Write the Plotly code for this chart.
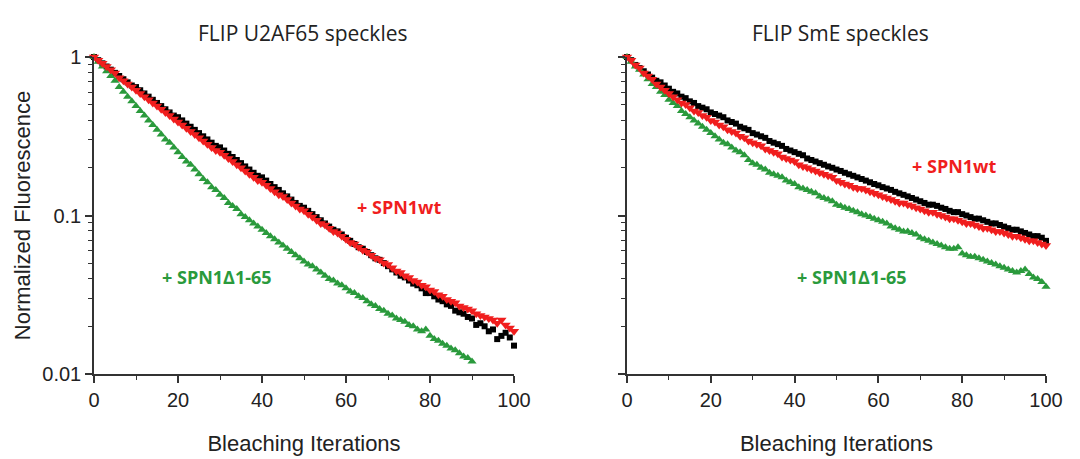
import plotly.graph_objects as go

# bleaching iterations
iters = list(range(101))

# FLIP U2AF65 speckles (left panel)
u2_ctrl = [1.000, 0.955, 0.912, 0.871, 0.832, 0.794, 0.759, 0.724, 0.692, 0.661,
           0.646, 0.617, 0.589, 0.562, 0.537, 0.513, 0.490, 0.468, 0.447, 0.427,
           0.417, 0.398, 0.380, 0.363, 0.347, 0.331, 0.316, 0.302, 0.288, 0.275,
           0.269, 0.257, 0.245, 0.234, 0.224, 0.214, 0.204, 0.195, 0.186, 0.178,
           0.174, 0.166, 0.158, 0.151, 0.145, 0.138, 0.132, 0.126, 0.120, 0.115,
           0.112, 0.107, 0.102, 0.0977, 0.0933, 0.0891, 0.0851, 0.0813, 0.0794, 0.0759,
           0.0724, 0.0692, 0.0661, 0.0631, 0.0617, 0.0589, 0.0562, 0.0537, 0.0525, 0.0501,
           0.0479, 0.0457, 0.0437, 0.0417, 0.0407, 0.0389, 0.0372, 0.0363, 0.0347, 0.0324,
           0.0324, 0.0309, 0.0295, 0.0288, 0.0275, 0.0269, 0.0251, 0.0245, 0.0240, 0.0229,
           0.0224, 0.0204, 0.0209, 0.0200, 0.0186, 0.0191, 0.0166, 0.0174, 0.0182, 0.0170,
           0.0151]
u2_wt = [1.000, 0.955, 0.912, 0.871, 0.832, 0.794, 0.741, 0.708, 0.676, 0.646,
         0.617, 0.589, 0.562, 0.537, 0.513, 0.490, 0.468, 0.447, 0.427, 0.407,
         0.389, 0.372, 0.355, 0.339, 0.324, 0.309, 0.295, 0.282, 0.269, 0.257,
         0.251, 0.240, 0.229, 0.219, 0.209, 0.200, 0.191, 0.182, 0.174, 0.166,
         0.162, 0.155, 0.148, 0.141, 0.135, 0.132, 0.126, 0.120, 0.115, 0.110,
         0.107, 0.102, 0.0977, 0.0933, 0.0891, 0.0871, 0.0832, 0.0794, 0.0776, 0.0741,
         0.0708, 0.0676, 0.0661, 0.0631, 0.0603, 0.0589, 0.0562, 0.0537, 0.0525, 0.0501,
         0.0490, 0.0468, 0.0447, 0.0437, 0.0417, 0.0407, 0.0389, 0.0380, 0.0363, 0.0355,
         0.0339, 0.0331, 0.0316, 0.0309, 0.0295, 0.0288, 0.0282, 0.0269, 0.0263, 0.0257,
         0.0251, 0.0240, 0.0234, 0.0229, 0.0224, 0.0219, 0.0209, 0.0219, 0.0204, 0.0195,
         0.0186]
u2_del = [1.000, 0.933, 0.871, 0.813, 0.759, 0.708, 0.646, 0.603, 0.562, 0.525,
          0.490, 0.457, 0.427, 0.398, 0.372, 0.347, 0.324, 0.302, 0.288, 0.269,
          0.251, 0.234, 0.219, 0.209, 0.195, 0.182, 0.170, 0.162, 0.151, 0.145,
          0.135, 0.129, 0.120, 0.115, 0.110, 0.102, 0.0977, 0.0933, 0.0891, 0.0851,
          0.0813, 0.0776, 0.0741, 0.0708, 0.0676, 0.0646, 0.0617, 0.0589, 0.0562, 0.0537,
          0.0513, 0.0490, 0.0479, 0.0457, 0.0437, 0.0417, 0.0398, 0.0389, 0.0372, 0.0363,
          0.0347, 0.0331, 0.0324, 0.0309, 0.0302, 0.0288, 0.0275, 0.0269, 0.0257, 0.0251,
          0.0240, 0.0234, 0.0224, 0.0219, 0.0214, 0.0204, 0.0200, 0.0191, 0.0186, 0.0191,
          0.0174, 0.0166, 0.0162, 0.0155, 0.0151, 0.0145, 0.0141, 0.0135, 0.0129, 0.0126,
          0.0120]

# FLIP SmE speckles (right panel)
sme_ctrl = [1.000, 0.955, 0.891, 0.851, 0.813, 0.776, 0.741, 0.708, 0.692, 0.661,
            0.631, 0.603, 0.589, 0.562, 0.550, 0.525, 0.513, 0.490, 0.479, 0.468,
            0.447, 0.437, 0.427, 0.417, 0.398, 0.389, 0.380, 0.363, 0.355, 0.347,
            0.331, 0.324, 0.316, 0.309, 0.295, 0.288, 0.282, 0.275, 0.263, 0.257,
            0.251, 0.245, 0.240, 0.229, 0.224, 0.219, 0.214, 0.209, 0.204, 0.200,
            0.195, 0.191, 0.186, 0.182, 0.178, 0.174, 0.170, 0.166, 0.162, 0.158,
            0.155, 0.151, 0.148, 0.145, 0.141, 0.138, 0.135, 0.132, 0.129, 0.126,
            0.123, 0.120, 0.117, 0.117, 0.115, 0.112, 0.110, 0.107, 0.105, 0.105,
            0.102, 0.100, 0.0977, 0.0955, 0.0955, 0.0933, 0.0912, 0.0891, 0.0891, 0.0871,
            0.0851, 0.0832, 0.0813, 0.0813, 0.0794, 0.0776, 0.0759, 0.0741, 0.0741, 0.0724,
            0.0692]
sme_wt = [1.000, 0.955, 0.891, 0.851, 0.794, 0.759, 0.724, 0.676, 0.646, 0.617,
          0.589, 0.562, 0.537, 0.513, 0.501, 0.479, 0.457, 0.447, 0.427, 0.417,
          0.398, 0.389, 0.372, 0.363, 0.347, 0.339, 0.331, 0.316, 0.309, 0.295,
          0.288, 0.282, 0.275, 0.263, 0.257, 0.251, 0.245, 0.234, 0.229, 0.224,
          0.219, 0.209, 0.204, 0.200, 0.195, 0.191, 0.186, 0.182, 0.178, 0.174,
          0.166, 0.162, 0.158, 0.155, 0.151, 0.148, 0.148, 0.145, 0.141, 0.138,
          0.135, 0.132, 0.129, 0.126, 0.123, 0.120, 0.120, 0.117, 0.115, 0.112,
          0.110, 0.107, 0.105, 0.105, 0.102, 0.100, 0.0977, 0.0955, 0.0955, 0.0933,
          0.0912, 0.0891, 0.0891, 0.0871, 0.0851, 0.0832, 0.0832, 0.0813, 0.0794, 0.0794,
          0.0776, 0.0759, 0.0741, 0.0741, 0.0724, 0.0708, 0.0692, 0.0692, 0.0676, 0.0661,
          0.0646]
sme_del = [1.000, 0.933, 0.871, 0.832, 0.776, 0.724, 0.676, 0.646, 0.603, 0.575,
           0.537, 0.513, 0.490, 0.457, 0.437, 0.417, 0.398, 0.380, 0.363, 0.347,
           0.331, 0.316, 0.302, 0.288, 0.282, 0.269, 0.257, 0.251, 0.240, 0.224,
           0.214, 0.209, 0.200, 0.195, 0.186, 0.182, 0.178, 0.174, 0.166, 0.162,
           0.158, 0.151, 0.148, 0.145, 0.141, 0.138, 0.132, 0.129, 0.126, 0.123,
           0.117, 0.115, 0.112, 0.110, 0.107, 0.105, 0.102, 0.100, 0.0977, 0.0955,
           0.0933, 0.0912, 0.0891, 0.0851, 0.0832, 0.0813, 0.0794, 0.0794, 0.0776, 0.0759,
           0.0724, 0.0708, 0.0692, 0.0676, 0.0661, 0.0646, 0.0631, 0.0617, 0.0617, 0.0631,
           0.0575, 0.0562, 0.0550, 0.0550, 0.0537, 0.0525, 0.0513, 0.0501, 0.0490, 0.0479,
           0.0468, 0.0457, 0.0447, 0.0437, 0.0447, 0.0457, 0.0427, 0.0407, 0.0398, 0.0380,
           0.0355]

BLACK = "#000000"
RED = "#f01e1e"
GREEN = "#2a9a3c"
AXIS = "#333333"

# the page body adds an 8 px offset, so layout positions are given 8 px up/left
W, H, OFF = 1080, 459, 8

fig = go.Figure()

panels = [("x", "y", u2_ctrl, u2_wt, u2_del),
          ("x2", "y2", sme_ctrl, sme_wt, sme_del)]
for xa, ya, ctrl, wt, dele in panels:
    fig.add_trace(go.Scatter(x=iters[:len(ctrl)], y=ctrl, xaxis=xa, yaxis=ya, mode="markers",
                             marker=dict(symbol="square", size=6, color=BLACK), cliponaxis=False))
    fig.add_trace(go.Scatter(x=iters[:len(dele)], y=dele, xaxis=xa, yaxis=ya, mode="markers",
                             marker=dict(symbol="triangle-up", size=8, color=GREEN), cliponaxis=False))
    fig.add_trace(go.Scatter(x=iters[:len(wt)], y=wt, xaxis=xa, yaxis=ya, mode="markers",
                             marker=dict(symbol="triangle-down", size=9, color=RED), cliponaxis=False))

minor_y = [m * 10 ** e for e in (-2, -1) for m in range(2, 10)]

xax = dict(range=[0, 100], showline=True, linecolor=AXIS, linewidth=1.5, showgrid=False,
           zeroline=False, automargin=False, ticks="outside", ticklen=7, tickwidth=1.5,
           tickcolor=AXIS, tickvals=[0, 20, 40, 60, 80, 100],
           minor=dict(tickvals=[10, 30, 50, 70, 90], ticks="outside", ticklen=4,
                      tickwidth=1.2, tickcolor=AXIS),
           tickfont=dict(family="Liberation Sans, Arial", size=20, color="#222"),
           title=dict(text="Bleaching Iterations", standoff=26,
                      font=dict(family="Liberation Sans, Arial", size=22, color="#222")))
yax = dict(type="log", range=[-2, 0], showline=True, linecolor=AXIS, linewidth=1.5,
           showgrid=False, zeroline=False, automargin=False, ticks="outside", ticklen=7,
           tickwidth=1.5, tickcolor=AXIS, tickvals=[0.01, 0.1, 1],
           ticktext=["0.01", "0.1", "1"],
           minor=dict(tickvals=minor_y, ticks="outside", ticklen=4, tickwidth=1.2,
                      tickcolor=AXIS),
           tickfont=dict(family="Liberation Sans, Arial", size=20, color="#222"))

ydom = [1 - (374 - OFF) / H, 1 - (57 - OFF) / H]
fig.update_layout(
    width=W, height=H,
    margin=dict(l=0, r=0, t=0, b=0),
    paper_bgcolor="white", plot_bgcolor="white",
    showlegend=False,
    xaxis=dict(xax, domain=[(94 - OFF) / W, (514 - OFF) / W], anchor="y"),
    yaxis=dict(yax, domain=ydom, anchor="x",
               title=dict(text="Normalized Fluorescence", standoff=6,
                          font=dict(family="Liberation Sans, Arial", size=22, color="#222"))),
    xaxis2=dict(xax, domain=[(627 - OFF) / W, (1046 - OFF) / W], anchor="y2"),
    yaxis2=dict(yax, domain=ydom, anchor="x2", showticklabels=False),
)

title_font = dict(family="Open Sans, Noto Sans", size=21, color="#222")
lab_font = dict(family="Open Sans, Noto Sans", size=18)
notes = [
    ("FLIP U2AF65 speckles", 303, 33, title_font, None),
    ("FLIP SmE speckles", 840, 33, title_font, None),
    ("<b>+ SPN1wt</b>", 399, 207, lab_font, RED),
    ("<b>+ SPN1\u03941-65</b>", 217, 277, lab_font, GREEN),
    ("<b>+ SPN1wt</b>", 954, 166, lab_font, RED),
    ("<b>+ SPN1\u03941-65</b>", 852, 277, lab_font, GREEN),
]
for text, px, py, font, col in notes:
    f = dict(font)
    if col:
        f["color"] = col
    fig.add_annotation(text=text, x=(px - OFF) / W, y=1 - (py - OFF) / H,
                       xref="paper", yref="paper", showarrow=False,
                       xanchor="center", yanchor="middle", font=f)

fig.write_html("out.html")
